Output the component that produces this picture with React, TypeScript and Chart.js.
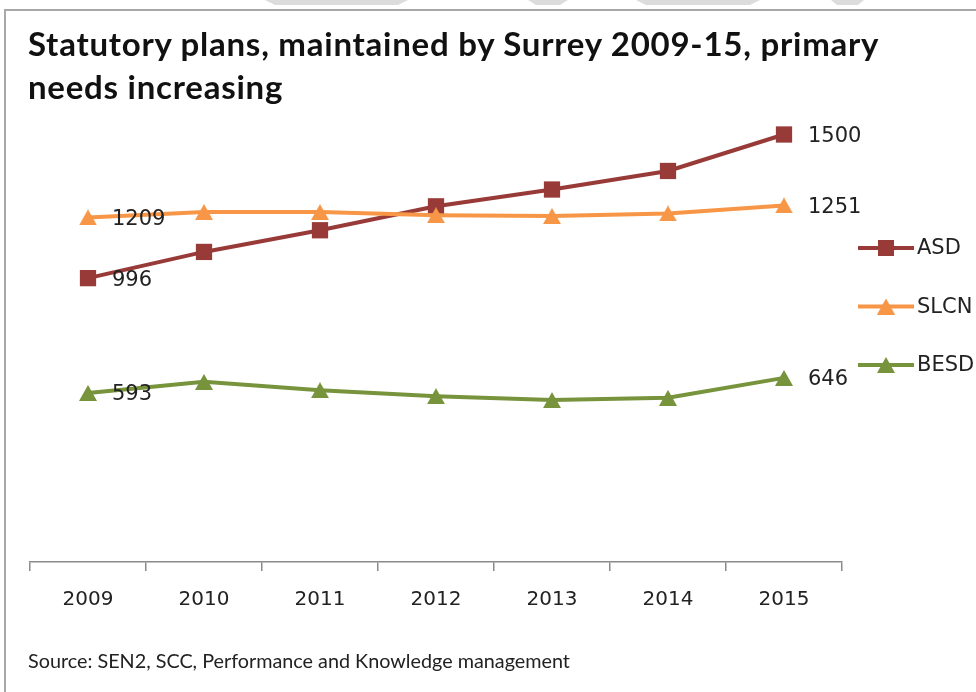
import React, { useEffect, useRef } from "react";
import { Chart, registerables } from "chart.js";

Chart.register(...registerables);

const years = ["2009", "2010", "2011", "2012", "2013", "2014", "2015"];
const seriesNames = ["ASD", "SLCN", "BESD"];
const asdValues = [996, 1088, 1164, 1248, 1307, 1372, 1500];
const slcnValues = [1209, 1228, 1228, 1217, 1214, 1223, 1251];
const besdValues = [593, 632, 603, 582, 568, 576, 646];
const seriesColors = ["#983A38", "#F79646", "#77933C"];
const yMin = 0;
const yMax = 1600;
const titleLines = ["Statutory plans, maintained by Surrey 2009-15, primary", "needs increasing"];
const sourceText = "Source: SEN2, SCC, Performance and Knowledge management";

function makeTriangle(color: string, w: number, h: number) {
  const c = document.createElement("canvas");
  c.width = w;
  c.height = h;
  const g = c.getContext("2d")!;
  g.fillStyle = color;
  g.beginPath();
  g.moveTo(w / 2, 0);
  g.lineTo(w, h);
  g.lineTo(0, h);
  g.closePath();
  g.fill();
  return c;
}

export default function App() {
  const ref = useRef<HTMLCanvasElement | null>(null);

  useEffect(() => {
    document.body.style.margin = "0";
    const canvas = ref.current;
    if (!canvas) return;
    const triSlcn = makeTriangle(seriesColors[1], 18, 16);
    const triBesd = makeTriangle(seriesColors[2], 18, 16);
    const markers: any[] = ["rect", triSlcn, triBesd];
    const allValues = [asdValues, slcnValues, besdValues];

    const labelPlugin = {
      id: "labelsAndLegend",
      afterDatasetsDraw(chart: any) {
        const ctx = chart.ctx;
        ctx.save();
        ctx.font = "21px 'DejaVu Sans'";
        ctx.fillStyle = "#222";
        ctx.textBaseline = "middle";
        ctx.textAlign = "left";
        chart.data.datasets.forEach((ds: any, di: number) => {
          const meta = chart.getDatasetMeta(di);
          const last = meta.data.length - 1;
          [0, last].forEach((idx) => {
            const p = meta.data[idx];
            ctx.fillText(String(ds.data[idx]), p.x + 24, p.y + 2);
          });
        });
        ctx.restore();
      },
      afterDraw(chart: any) {
        const ctx = chart.ctx;
        const area = chart.chartArea;
        ctx.save();
        chart.data.datasets.forEach((ds: any, di: number) => {
          const y = area.top + 142 + di * 58.5;
          const x0 = area.right + 16;
          ctx.strokeStyle = seriesColors[di];
          ctx.lineWidth = 4;
          ctx.beginPath();
          ctx.moveTo(x0, y);
          ctx.lineTo(x0 + 56, y);
          ctx.stroke();
          const mx = x0 + 28;
          if (di === 0) {
            ctx.fillStyle = seriesColors[0];
            ctx.fillRect(mx - 8, y - 8, 16, 16);
          } else {
            const img = markers[di];
            ctx.drawImage(img, mx - img.width / 2, y - img.height / 2);
          }
          ctx.font = "21px 'DejaVu Sans'";
          ctx.fillStyle = "#222";
          ctx.textBaseline = "middle";
          ctx.fillText(seriesNames[di], x0 + 59, y + 1);
        });
        ctx.restore();
      },
    };

    const chart = new Chart(canvas, {
      type: "line",
      data: {
        labels: years,
        datasets: seriesNames.map((name, i) => ({
          label: name,
          data: allValues[i],
          borderColor: seriesColors[i],
          backgroundColor: seriesColors[i],
          borderWidth: 4,
          pointStyle: markers[i],
          pointRadius: i === 0 ? 11.5 : 9,
          pointBorderWidth: 0,
          pointBackgroundColor: seriesColors[i],
          tension: 0,
          order: 3 - i,
          clip: false as any,
        })),
      },
      options: {
        responsive: false,
        animation: false,
        layout: { padding: { left: 30, right: 134, top: 106, bottom: 70 } },
        plugins: {
          legend: { display: false },
          title: { display: false },
          tooltip: { enabled: false },
        },
        scales: {
          x: {
            type: "category",
            offset: true,
            grid: {
              display: true,
              offset: true,
              drawOnChartArea: false,
              drawTicks: true,
              tickLength: 9,
              color: "#8a8a8a",
              lineWidth: 1.5,
            },
            border: { display: true, color: "#8a8a8a", width: 1.5 },
            ticks: {
              color: "#222",
              font: { family: "'DejaVu Sans'", size: 20 },
              padding: 17,
              maxRotation: 0,
              autoSkip: false,
            },
            afterFit: (scale: any) => {
              scale.height = 60;
            },
          },
          y: {
            display: false,
            min: yMin,
            max: yMax,
          },
        },
      },
      plugins: [labelPlugin],
    });
    return () => chart.destroy();
  }, []);

  const shapes = [
    [265, 408, 10],
    [528, 568, 8],
    [636, 760, 10],
    [831, 864, 6],
  ];

  return (
    <div style={{ position: "relative", width: 976, height: 692, background: "#fff", overflow: "hidden" }}>
      {shapes.map(([a, b, inset], i) => (
        <div
          key={i}
          style={{
            position: "absolute",
            left: a,
            top: 0,
            width: b - a,
            height: 5,
            background: "#dcdcdc",
            clipPath: `polygon(0 0, 100% 0, calc(100% - ${inset}px) 100%, ${inset}px 100%)`,
          }}
        />
      ))}
      <div style={{ position: "absolute", left: 5, top: 9, width: 971, height: 2, background: "#a8a8a8" }} />
      <div style={{ position: "absolute", left: 4, top: 9, width: 2, height: 683, background: "#a8a8a8" }} />
      <canvas ref={ref} width={976} height={692} style={{ position: "absolute", left: 0, top: 0 }} />
      <div
        style={{
          position: "absolute",
          left: 28,
          top: 22,
          fontFamily: "Lato, 'Open Sans', sans-serif",
          fontWeight: 700,
          fontSize: 33,
          letterSpacing: "0.75px",
          lineHeight: "43px",
          color: "#111",
          whiteSpace: "nowrap",
        }}
      >
        {titleLines.map((t, i) => (
          <div key={i}>{t}</div>
        ))}
      </div>
      <div
        style={{
          position: "absolute",
          left: 28,
          top: 648,
          fontFamily: "Lato, 'Open Sans', sans-serif",
          fontSize: 19.8,
          lineHeight: "24px",
          color: "#222",
          whiteSpace: "nowrap",
        }}
      >
        {sourceText}
      </div>
    </div>
  );
}
